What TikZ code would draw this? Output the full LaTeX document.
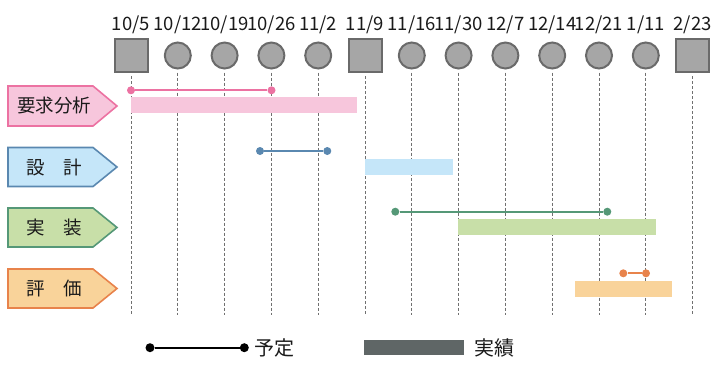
\documentclass[tikz,border=0pt]{standalone}
\usepackage{fontspec}
\setmainfont{Noto Sans CJK JP}
\definecolor{mkfill}{HTML}{A6A6A6}
\definecolor{mkline}{HTML}{6A6A6A}
\definecolor{grid}{HTML}{707070}
\definecolor{pinkL}{HTML}{EC72A2}
\definecolor{pinkF}{HTML}{F7C6DC}
\definecolor{blueL}{HTML}{5A88B0}
\definecolor{blueF}{HTML}{C5E6F9}
\definecolor{greenL}{HTML}{559877}
\definecolor{greenF}{HTML}{C8DFA8}
\definecolor{orangeL}{HTML}{E8834B}
\definecolor{orangeF}{HTML}{F9D39A}
\definecolor{legbar}{HTML}{5F6666}
\definecolor{txt}{HTML}{1A1A1A}
\begin{document}
\begin{tikzpicture}[x=1pt,y=-1pt,
  datelbl/.style={font=\fontsize{18.5}{20}\selectfont, text=txt, inner sep=0pt, anchor=base},
  sqm/.style={rectangle, draw=mkline, fill=mkfill, line width=2pt, minimum size=33pt, inner sep=0pt},
  cim/.style={circle, draw=mkline, fill=mkfill, line width=2pt, minimum size=26pt, inner sep=0pt},
  gridline/.style={draw=grid, line width=0.8pt, dash pattern=on 3pt off 2pt, shorten <=3pt},
  pdot/.style={circle, inner sep=0pt, minimum size=8pt},
  pline/.style={line width=2pt},
  task/.style={line width=1.6pt, line join=miter},
  tasklbl/.style={font=\fontsize{18.5}{20}\selectfont, text=txt, inner sep=0pt},
  leglbl/.style={font=\fontsize{20}{22}\selectfont, text=txt, inner sep=0pt, anchor=west}
]
\useasboundingbox (0,0) rectangle (723,365);
% header markers, dates, grid lines
\foreach \i/\d/\s in {0/{10/5}/sqm, 1/{10/12}/cim, 2/{10/19}/cim, 3/{10/26}/cim, 4/{11/2}/cim, 5/{11/9}/sqm, 6/{11/16}/cim, 7/{11/30}/cim, 8/{12/7}/cim, 9/{12/14}/cim, 10/{12/21}/cim, 11/{1/11}/cim, 12/{2/23}/sqm}{
  \pgfmathsetmacro\xx{131+46.8*\i}
  \node[datelbl] (d\i) at (\xx,30) {\d};
  \node[\s] (m\i) at (\xx,55.5) {};
  \coordinate (b\i) at (\xx,315);
  \draw[gridline] (m\i.south) -- (b\i);
}
% task labels
\draw[task, draw=pinkL, fill=pinkF] (8,86) -- (93,86) -- (117,106) -- (93,126) -- (8,126) -- cycle;
\node[tasklbl] (t1) at (54,106) {要求分析};
\draw[task, draw=blueL, fill=blueF] (8,147.5) -- (93,147.5) -- (117,167) -- (93,186.5) -- (8,186.5) -- cycle;
\node[tasklbl] (t2) at (54.5,167) {設　計};
\draw[task, draw=greenL, fill=greenF] (8,208) -- (93,208) -- (117,227.5) -- (93,247) -- (8,247) -- cycle;
\node[tasklbl] (t3) at (54.5,227.5) {実　装};
\draw[task, draw=orangeL, fill=orangeF] (8,269) -- (93,269) -- (117,288.5) -- (93,308) -- (8,308) -- cycle;
\node[tasklbl] (t4) at (54.5,288.5) {評　価};
% actual bars
\fill[pinkF] (131,97) rectangle (357,113);
\fill[blueF] (365,158.5) rectangle (453,174.5);
\fill[greenF] (458,219.3) rectangle (656,235);
\fill[orangeF] (575,281) rectangle (672,297);
% planned lines
\node[pdot, fill=pinkL] (p1a) at (131,90.3) {};
\node[pdot, fill=pinkL] (p1b) at (271.5,90.3) {};
\draw[pline, pinkL] (p1a) -- (p1b);
\node[pdot, fill=blueL] (p2a) at (260,151) {};
\node[pdot, fill=blueL] (p2b) at (327.3,151) {};
\draw[pline, blueL] (p2a) -- (p2b);
\node[pdot, fill=greenL] (p3a) at (395.3,211.7) {};
\node[pdot, fill=greenL] (p3b) at (607.3,211.7) {};
\draw[pline, greenL] (p3a) -- (p3b);
\node[pdot, fill=orangeL] (p4a) at (623.3,273.3) {};
\node[pdot, fill=orangeL] (p4b) at (646,273.3) {};
\draw[pline, orangeL] (p4a) -- (p4b);
% legend
\node[pdot, fill=black, minimum size=9pt] (la) at (150,347.7) {};
\node[pdot, fill=black, minimum size=9pt] (lb) at (244.3,347.7) {};
\draw[pline, black] (la) -- (lb);
\node[leglbl] (lt1) at (254,348) {予定};
\fill[legbar] (364,340) rectangle (464,355);
\node[leglbl] (lt2) at (474,348) {実績};
\end{tikzpicture}
\end{document}
